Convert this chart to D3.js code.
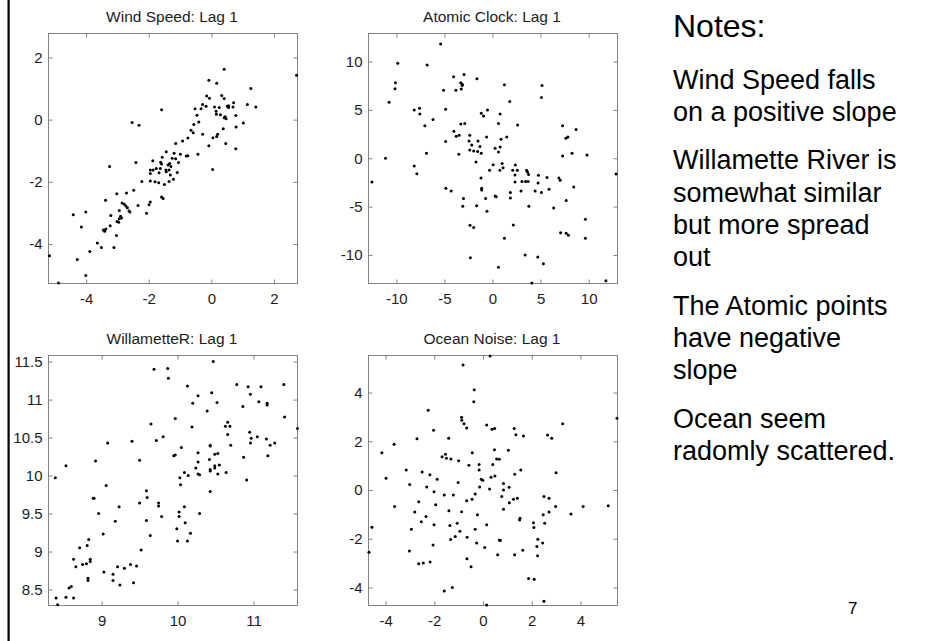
<!DOCTYPE html>
<html><head><meta charset="utf-8">
<script src="https://cdn.jsdelivr.net/npm/d3@7"></script>
<style>
html,body{margin:0;padding:0;background:#fff;}
svg{display:block;}
text{font-family:"Liberation Sans", Arial, Helvetica, sans-serif;}
</style></head><body>
<svg id="chart" width="951" height="641"></svg>
<script>
// ---------- data (x_t, x_t+1) ----------
const windSpeedPoints = [
[2.72,1.43],[0.41,1.62],[-0.08,1.27],[0.17,1.17],[1.26,1.00],[0.33,0.78],[-0.15,0.76],[0.41,0.68],[-0.06,0.69],[1.15,0.49],
[1.42,0.41],[-1.59,0.32],[-0.28,0.49],[-0.17,0.43],[-0.52,0.35],[-0.33,0.35],[0.10,0.41],[0.25,0.39],[0.51,0.43],[0.55,0.39],
[0.71,0.54],[0.69,0.41],[0.55,0.45],[0.15,0.27],[0.29,0.16],[0.16,0.17],[-0.46,0.14],[0.78,0.13],[0.44,0.09],[0.47,0.03],
[0.41,0.06],[-2.53,-0.09],[-2.31,-0.18],[-0.40,-0.08],[1.02,-0.11],[-0.56,-0.16],[0.79,-0.24],[0.38,-0.29],[-0.65,-0.34],[-0.58,-0.42],
[-0.28,-0.47],[0.20,-0.47],[0.17,-0.54],[0.05,-0.58],[-0.75,-0.59],[-0.92,-0.69],[-1.14,-0.77],[0.46,-0.77],[-0.08,-0.84],[0.78,-0.94],
[-1.44,-1.03],[-0.99,-1.11],[-1.19,-1.08],[-0.75,-1.16],[-0.80,-1.17],[-0.43,-1.11],[-1.57,-1.21],[-1.87,-1.32],[-2.41,-1.38],[-3.25,-1.51],
[-1.25,-1.24],[-1.14,-1.26],[-1.62,-1.37],[-1.59,-1.43],[-1.33,-1.41],[-1.05,-1.38],[-1.76,-1.57],[-1.63,-1.57],[-1.45,-1.62],[-1.38,-1.46],
[-1.29,-1.51],[-1.95,-1.62],[-1.86,-1.62],[-1.44,-1.68],[-1.35,-1.62],[-1.31,-1.78],[-1.09,-1.70],[-1.67,-1.71],[0.04,-1.60],[-1.95,-1.73],
[-2.22,-1.99],[-1.95,-1.97],[-1.80,-2.00],[-1.68,-2.03],[-1.50,-2.09],[-1.35,-1.99],[-1.21,-1.92],[-1.59,-2.49],[-1.54,-2.54],[-2.48,-2.27],
[-2.71,-2.36],[-3.02,-2.38],[-3.38,-2.59],[-1.95,-2.65],[-1.99,-2.74],[-2.34,-2.76],[-2.85,-2.68],[-2.78,-2.72],[-2.73,-2.78],[-2.68,-2.83],
[-2.63,-2.94],[-2.60,-2.97],[-2.94,-2.92],[-2.90,-3.11],[-2.87,-3.16],[-2.94,-3.19],[-2.07,-3.01],[-4.41,-3.06],[-4.01,-2.97],[-3.21,-3.08],
[-3.01,-3.28],[-2.96,-3.30],[-3.23,-3.41],[-3.45,-3.55],[-3.41,-3.59],[-3.37,-3.52],[-4.15,-3.45],[-3.03,-3.73],[-3.64,-3.97],[-3.51,-4.11],
[-3.11,-4.11],[-3.88,-4.24],[-4.28,-4.50],[-5.17,-4.38],[-4.01,-5.01],[-4.88,-5.25]
];
const atomicClockPoints = [
[-5.40,11.82],[-9.86,9.83],[-6.80,9.65],[-10.10,7.80],[-10.14,7.20],[-4.05,8.43],[-2.96,8.67],[-1.62,8.22],[-3.30,7.80],[-3.13,7.62],
[-3.16,7.52],[-3.26,7.17],[-3.81,7.03],[-5.09,7.03],[5.15,7.52],[5.09,6.29],[-10.76,5.80],[1.24,7.59],[1.79,5.87],[-8.14,5.00],
[-7.59,5.17],[-7.56,4.58],[-4.88,5.07],[-0.52,5.00],[-1.17,4.65],[-0.93,4.37],[0.79,4.58],[-6.19,4.02],[-7.04,3.36],[-3.30,3.53],
[-2.89,3.60],[0.62,3.60],[2.61,3.43],[7.29,3.36],[8.69,2.97],[7.84,2.20],[7.63,2.06],[-4.02,2.80],[-3.78,2.27],[-3.47,2.38],
[-2.37,2.38],[-0.62,2.20],[1.48,2.20],[0.89,1.96],
[-4.88,1.72],[-2.44,1.79],[-1.51,1.79],[-2.16,1.38],[-1.31,1.21],[0.79,1.17],[-2.37,0.86],[-1.96,0.76],[-1.55,0.69],[-1.17,0.52],
[0.27,1.03],[0.62,0.66],[-11.13,0.00],[-6.87,0.52],[-3.51,0.41],[7.29,0.24],[8.28,0.52],[9.83,0.34],[-8.14,-0.79],[-7.87,-1.59],
[-1.72,-0.38],[0.07,-0.66],[1.00,-0.55],[1.10,-0.97],[0.76,-1.24],[-0.31,-1.24],[2.10,-1.24],[2.37,-0.69],[2.58,-1.24],[2.34,-1.72],
[3.54,-1.24],[3.64,-1.41],[3.75,-1.69],[4.78,-1.76],[5.67,-2.00],[6.91,-2.03],[-12.54,-2.45],[-4.85,-3.10],[-4.30,-3.38],[-1.20,-2.03],
[-1.13,-3.10],[-1.13,-3.28],[0.27,-3.90],[0.38,-3.97],[2.34,-2.45],[3.06,-2.41],[3.44,-2.41],[3.71,-2.41],[4.74,-2.55],[1.86,-3.55],
[1.86,-4.10],[2.96,-3.38],[4.43,-3.38],[5.09,-3.55],[5.88,-3.21],[7.04,-2.28],[8.45,-2.97],[7.66,-4.38],[-3.02,-4.17],[-3.09,-4.97],
[-0.72,-4.17],[-1.65,-4.90],[-0.58,-5.48],[6.36,-5.14],[3.78,-4.97],[-2.34,-6.93],[-1.96,-7.17],[2.16,-6.90],[1.24,-8.28],[7.08,-7.69],
[7.66,-7.76],[7.90,-7.97],[9.66,-6.31],[9.66,-8.28],[-2.30,-10.28],[0.62,-11.28],[3.40,-10.00],[4.71,-10.21],[5.29,-10.90],[4.09,-12.90],
[11.79,-12.66],[12.85,-1.62]
];
const willametteRPoints = [
[10.47,11.50],[9.69,11.40],[9.87,11.41],[9.88,11.28],[10.13,11.18],[10.78,11.20],[10.93,11.17],[11.10,11.17],[11.40,11.20],[10.45,11.09],
[10.96,11.07],[10.27,11.05],[10.20,10.95],[10.52,10.96],[11.07,10.97],[11.18,10.95],[11.18,10.93],[10.86,10.91],[10.39,10.85],[11.41,10.77],
[9.97,10.75],[9.65,10.68],[10.66,10.70],[10.63,10.65],[10.69,10.65],[10.19,10.64],[11.58,10.62],[10.66,10.54],[10.95,10.57],[10.97,10.49],
[11.05,10.51],[11.17,10.48],[10.96,10.43],[11.22,10.40],[11.28,10.43],[9.81,10.51],[9.72,10.46],[9.40,10.45],[9.08,10.43],[10.43,10.40],
[10.43,10.39],[10.70,10.40],
[10.05,10.37],[9.95,10.26],[9.97,10.27],[10.27,10.30],[10.53,10.29],[10.49,10.28],[11.19,10.26],[8.92,10.19],[8.53,10.13],[9.50,10.20],
[10.87,10.24],[10.27,10.18],[10.24,10.10],[10.42,10.21],[10.49,10.13],[10.55,10.14],[10.27,10.02],[10.29,10.01],[10.43,10.08],[10.43,10.06],
[10.49,10.10],[10.53,10.02],[10.64,10.04],[10.03,9.97],[10.09,10.04],[10.14,10.00],[10.04,9.88],[10.43,9.79],[10.91,9.94],[8.39,9.97],
[8.89,9.70],[8.90,9.70],[9.06,9.87],[9.59,9.80],[9.60,9.71],[9.50,9.64],[9.75,9.64],[9.75,9.60],[9.23,9.59],[8.96,9.50],
[10.29,9.50],[10.02,9.52],[10.02,9.46],[10.09,9.59],[9.79,9.46],[9.59,9.41],[9.18,9.40],[9.99,9.30],[10.10,9.38],[10.17,9.24],
[9.02,9.23],[9.64,9.21],[9.52,9.02],[8.71,9.05],[8.81,9.08],[8.83,9.16],[10.00,9.14],[10.13,9.14],[8.63,8.90],[8.66,8.80],
[8.75,8.83],[8.80,8.84],[8.85,8.90],[8.85,8.87],[9.21,8.80],[9.30,8.78],[9.38,8.83],[9.46,8.81],[9.03,8.73],[9.15,8.70],
[9.15,8.62],[9.24,8.56],[9.42,8.59],[8.82,8.65],[8.82,8.62],[8.53,8.40],[8.57,8.52],[8.60,8.54],[8.63,8.39],[8.40,8.39],
[8.42,8.30]
];
const oceanNoisePoints = [
[0.29,5.50],[-0.82,5.13],[-0.36,4.11],[-0.38,3.62],[-2.25,3.27],[-0.88,2.99],[-0.87,2.86],[-0.78,2.72],[-0.67,2.54],[0.15,2.67],
[0.37,2.49],[0.48,2.52],[1.28,2.52],[1.35,2.27],[1.66,2.22],[2.65,2.26],[2.82,2.12],[3.27,2.72],[5.50,2.94],[-2.03,2.45],
[-2.71,2.10],[-1.41,2.12],[-3.65,1.88],[0.47,1.65],[1.04,1.63],
[-4.15,1.53],[-1.54,1.47],[-1.68,1.36],[-1.50,1.30],[-1.32,1.27],[-0.44,1.53],[-1.00,1.20],[0.56,1.27],[0.67,1.26],[0.40,1.05],
[-0.16,1.05],[-0.58,1.02],[-0.16,0.82],[-3.15,0.82],[-2.50,0.74],[-2.18,0.63],[-1.88,0.44],[-3.98,0.48],[-0.07,0.44],[-0.01,0.40],
[0.33,0.52],[0.49,0.57],[1.30,0.65],[1.55,0.82],[3.00,0.71],[-1.02,0.31],[-3.01,0.23],[0.84,0.27],[-2.31,0.12],[-0.14,0.12],
[1.07,0.11],[0.27,0.04],[0.84,0.00],[-2.01,-0.07],[-1.59,-0.20],[-1.22,-0.20],[-0.32,-0.16],[0.77,-0.27],[2.50,-0.27],[2.71,-0.34],
[1.41,-0.34],[1.25,-0.38],[-0.45,-0.38],[-0.67,-0.44],[1.08,-0.52],[-2.64,-0.48],[-1.94,-0.61],[-3.63,-0.68],[0.84,-0.79],[2.98,-0.68],
[4.11,-0.68],[5.14,-0.65],[-1.40,-0.85],[-0.88,-0.89],[-2.80,-0.90],[2.71,-0.90],[3.61,-0.98],[2.47,-1.02],[-0.23,-1.02],[-2.34,-1.09],
[1.52,-1.16],[1.50,-1.23],[-1.06,-1.36],[2.07,-1.34],[-2.53,-1.30],[-1.36,-1.46],[-2.01,-1.43],[0.15,-1.43],[2.53,-1.36],[-4.56,-1.53],
[-2.94,-1.61],[-0.32,-1.61],[2.09,-1.54],[-0.95,-1.69],[-1.14,-1.91],[-0.65,-1.94],[-1.33,-2.03],[0.67,-2.05],[0.71,-2.07],[2.25,-2.02],
[2.45,-2.18],[-0.26,-2.18],[-2.05,-2.26],[2.21,-2.32],[0.07,-2.36],[-4.68,-2.55],[-3.02,-2.50],[1.63,-2.47],[1.30,-2.66],[0.60,-2.66],
[2.24,-2.70],[-0.66,-2.82],[-2.17,-2.95],[-2.64,-3.03],[-2.45,-3.00],[-0.49,-3.15],[1.87,-3.63],[2.10,-3.66],[-1.26,-4.00],[-1.59,-4.15],
[2.50,-4.57],[0.15,-4.72]
];

const panelTitles = ["Wind Speed: Lag 1", "Atomic Clock: Lag 1", "WillametteR: Lag 1", "Ocean Noise: Lag 1"];
const panelData = [windSpeedPoints, atomicClockPoints, willametteRPoints, oceanNoisePoints];
const xDomains = [[-5.2, 2.75], [-12.9, 13.0], [8.30, 11.58], [-4.70, 5.52]];
const yDomains = [[-5.27, 2.77], [-12.95, 12.9], [8.29, 11.58], [-4.74, 5.52]];
const xTickValues = [[-4, -2, 0, 2], [-10, -5, 0, 5, 10], [9, 10, 11], [-4, -2, 0, 2, 4]];
const yTickValues = [[-4, -2, 0, 2], [-10, -5, 0, 5, 10], [8.5, 9, 9.5, 10, 10.5, 11, 11.5], [-4, -2, 0, 2, 4]];

const noteHeading = "Notes:";
const noteParagraphs = [
  ["Wind Speed falls", "on a positive slope"],
  ["Willamette River is", "somewhat similar", "but more spread", "out"],
  ["The Atomic points", "have negative", "slope"],
  ["Ocean seem", "radomly scattered."]
];
const pageNumber = "7";

// ---------- layout ----------
const svg = d3.select("#chart");
const panelW = 249, panelH = 250;
const panelOrigins = [[48.5, 33.5], [368.5, 33.5], [48.5, 355.5], [368.5, 355.5]];
const axisGray = "#828282";
const textColor = "#1c1c1c";
const fmt = d => String(d);

// slide left border
svg.append("rect").attr("x", 7.5).attr("y", 0).attr("width", 2.2).attr("height", 641).attr("fill", "#000");

panelData.forEach((pts, i) => {
  const [ox, oy] = panelOrigins[i];
  const g = svg.append("g").attr("transform", `translate(${ox},${oy})`);
  const xs = d3.scaleLinear().domain(xDomains[i]).range([0, panelW]);
  const ys = d3.scaleLinear().domain(yDomains[i]).range([panelH, 0]);

  g.append("rect").attr("width", panelW).attr("height", panelH)
    .attr("fill", "#fff").attr("stroke", axisGray).attr("stroke-width", 1);

  const styleAxis = sel => {
    sel.attr("color", axisGray);
    sel.select(".domain").remove();
    sel.selectAll("text").attr("fill", textColor).style("font-size", "15px")
      .style("font-family", '"Liberation Sans", Arial, sans-serif');
  };

  g.append("g").attr("transform", `translate(0,${panelH})`)
    .call(d3.axisBottom(xs).tickValues(xTickValues[i]).tickSizeInner(-4).tickSizeOuter(0).tickPadding(10).tickFormat(fmt))
    .call(styleAxis);
  g.append("g")
    .call(d3.axisTop(xs).tickValues(xTickValues[i]).tickSizeInner(-4).tickSizeOuter(0).tickFormat(""))
    .call(styleAxis);
  g.append("g")
    .call(d3.axisLeft(ys).tickValues(yTickValues[i]).tickSizeInner(-4).tickSizeOuter(0).tickPadding(6).tickFormat(fmt))
    .call(styleAxis);
  g.append("g").attr("transform", `translate(${panelW},0)`)
    .call(d3.axisRight(ys).tickValues(yTickValues[i]).tickSizeInner(-4).tickSizeOuter(0).tickFormat(""))
    .call(styleAxis);

  g.append("g").selectAll("circle").data(pts).join("circle")
    .attr("cx", d => xs(d[0])).attr("cy", d => ys(d[1]))
    .attr("r", 1.5).attr("fill", "#000");

  g.append("text").attr("x", panelW / 2 - 1).attr("y", -12)
    .attr("text-anchor", "middle").attr("fill", textColor)
    .style("font-size", "15.5px").text(panelTitles[i]);
});

// notes
const notesX = 673;
svg.append("text").attr("x", notesX).attr("y", 37).attr("fill", "#000")
  .style("font-size", "32px").text(noteHeading);
let lineIdx = 0;
noteParagraphs.forEach((para, p) => {
  para.forEach(line => {
    svg.append("text").attr("x", notesX)
      .attr("y", 88.5 + 32.2 * lineIdx + 16.5 * p)
      .attr("fill", "#000").style("font-size", "27px").text(line);
    lineIdx++;
  });
});
svg.append("text").attr("x", 848).attr("y", 614).attr("fill", "#000")
  .style("font-size", "17px").text(pageNumber);
</script></body></html>
